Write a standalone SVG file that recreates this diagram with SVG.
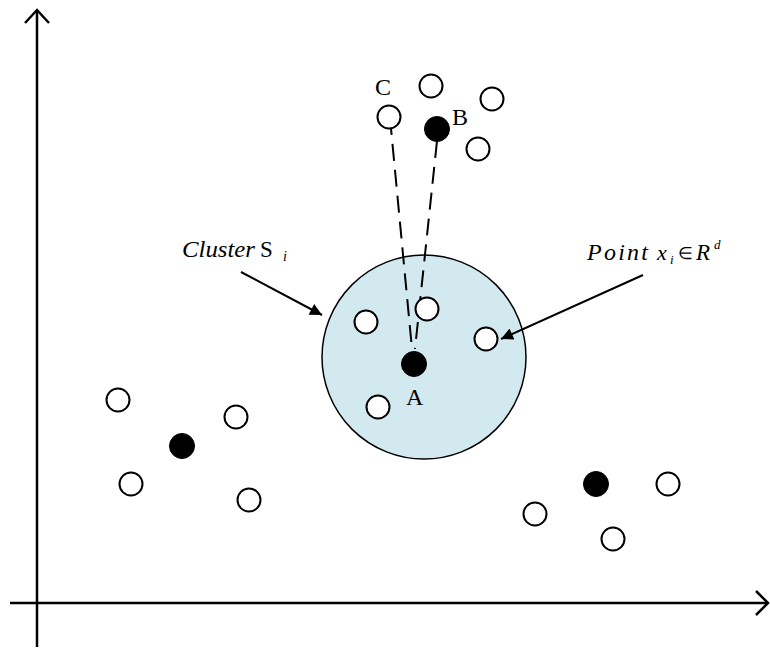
<svg xmlns="http://www.w3.org/2000/svg" width="770" height="650" viewBox="0 0 770 650">
  <style>
    .axis { fill: none; stroke: #000; stroke-width: 2.5; }
    .pt { fill: #fff; stroke: #000; stroke-width: 2; }
    .ctr { fill: #000; stroke: #000; stroke-width: 1; }
    .dash { fill: none; stroke: #000; stroke-width: 2; stroke-dasharray: 17 9; }
    .arrow { fill: none; stroke: #000; stroke-width: 2; }
    .lbl { font-family: "Liberation Serif", "Times New Roman", serif; font-size: 24px; fill: #000; }
    .it { font-family: "Liberation Serif", "Times New Roman", serif; font-style: italic; fill: #000; }
    .rm { font-family: "Liberation Serif", "Times New Roman", serif; fill: #000; }
  </style>
  <defs>
    <marker id="head" viewBox="0 0 10 10" refX="10" refY="5" markerWidth="8" markerHeight="6" markerUnits="strokeWidth" orient="auto">
      <path d="M0,0 L10,5 L0,10 z" fill="#000"/>
    </marker>
  </defs>

  <rect width="770" height="650" fill="#fff"/>

  <!-- axes -->
  <g id="axes">
    <line class="axis" x1="37" y1="647" x2="37" y2="10"/>
    <polyline class="axis" points="25,23 37,10 49,23"/>
    <line class="axis" x1="10" y1="603" x2="768" y2="603"/>
    <polyline class="axis" points="756,591 768,603 756,615"/>
  </g>

  <!-- cluster region -->
  <g id="cluster">
    <circle cx="424" cy="357" r="102" fill="#d2e9ef" stroke="#000" stroke-width="1.5"/>
  </g>

  <!-- connectors -->
  <g id="connectors">
    <line class="dash" x1="390" y1="118" x2="412" y2="349"/>
    <line class="dash" x1="437" y1="141" x2="415" y2="349"/>
    <line class="arrow" x1="241" y1="272" x2="322" y2="315" marker-end="url(#head)"/>
    <line class="arrow" x1="643" y1="275" x2="501" y2="339" marker-end="url(#head)"/>
  </g>

  <!-- top group -->
  <g id="point-c"><circle class="pt" cx="389" cy="117" r="11.5"/><text class="lbl" x="375" y="95">C</text></g>
  <g id="point-top"><circle class="pt" cx="431" cy="86" r="11.5"/></g>
  <g id="point-right"><circle class="pt" cx="492" cy="99" r="11.5"/></g>
  <g id="center-b"><circle class="ctr" cx="437" cy="129" r="12.5"/><text class="lbl" x="452" y="125">B</text></g>
  <g id="point-lower"><circle class="pt" cx="478" cy="149" r="11.5"/></g>

  <!-- points inside the cluster -->
  <g id="point-in1"><circle class="pt" cx="366" cy="322" r="11.5"/></g>
  <g id="point-in2"><circle class="pt" cx="427" cy="309" r="11.5"/></g>
  <g id="point-in3"><circle class="pt" cx="486" cy="339" r="11.5"/></g>
  <g id="point-in4"><circle class="pt" cx="378" cy="407" r="11.5"/></g>
  <g id="center-a"><circle class="ctr" cx="414" cy="364" r="12.5"/><text class="lbl" x="406" y="405">A</text></g>

  <!-- left group -->
  <g id="point-l1"><circle class="pt" cx="118" cy="400" r="11.5"/></g>
  <g id="point-l2"><circle class="pt" cx="236" cy="417" r="11.5"/></g>
  <g id="center-l"><circle class="ctr" cx="182" cy="446" r="12.5"/></g>
  <g id="point-l3"><circle class="pt" cx="131" cy="484" r="11.5"/></g>
  <g id="point-l4"><circle class="pt" cx="249" cy="500" r="11.5"/></g>

  <!-- right group -->
  <g id="center-r"><circle class="ctr" cx="596" cy="484" r="12.5"/></g>
  <g id="point-r1"><circle class="pt" cx="668" cy="484" r="11.5"/></g>
  <g id="point-r2"><circle class="pt" cx="535" cy="514" r="11.5"/></g>
  <g id="point-r3"><circle class="pt" cx="613" cy="539" r="11.5"/></g>

  <!-- annotations -->
  <g id="label-cluster">
    <text class="it" x="182" y="257" font-size="24" textLength="73" lengthAdjust="spacingAndGlyphs">Cluster</text>
    <text class="rm" x="260" y="257" font-size="23">S</text>
    <text class="it" x="283" y="261" font-size="14">i</text>
  </g>
  <g id="label-point">
    <text class="it" x="587" y="260" font-size="24" textLength="61" lengthAdjust="spacing">Point</text>
    <text class="it" x="657" y="260" font-size="22">x</text>
    <text class="it" x="670" y="264" font-size="13">i</text>
    <text class="rm" x="678" y="259" font-size="17">∈</text>
    <text class="it" x="696" y="260" font-size="23">R</text>
    <text class="it" x="714" y="249" font-size="13">d</text>
  </g>
</svg>
